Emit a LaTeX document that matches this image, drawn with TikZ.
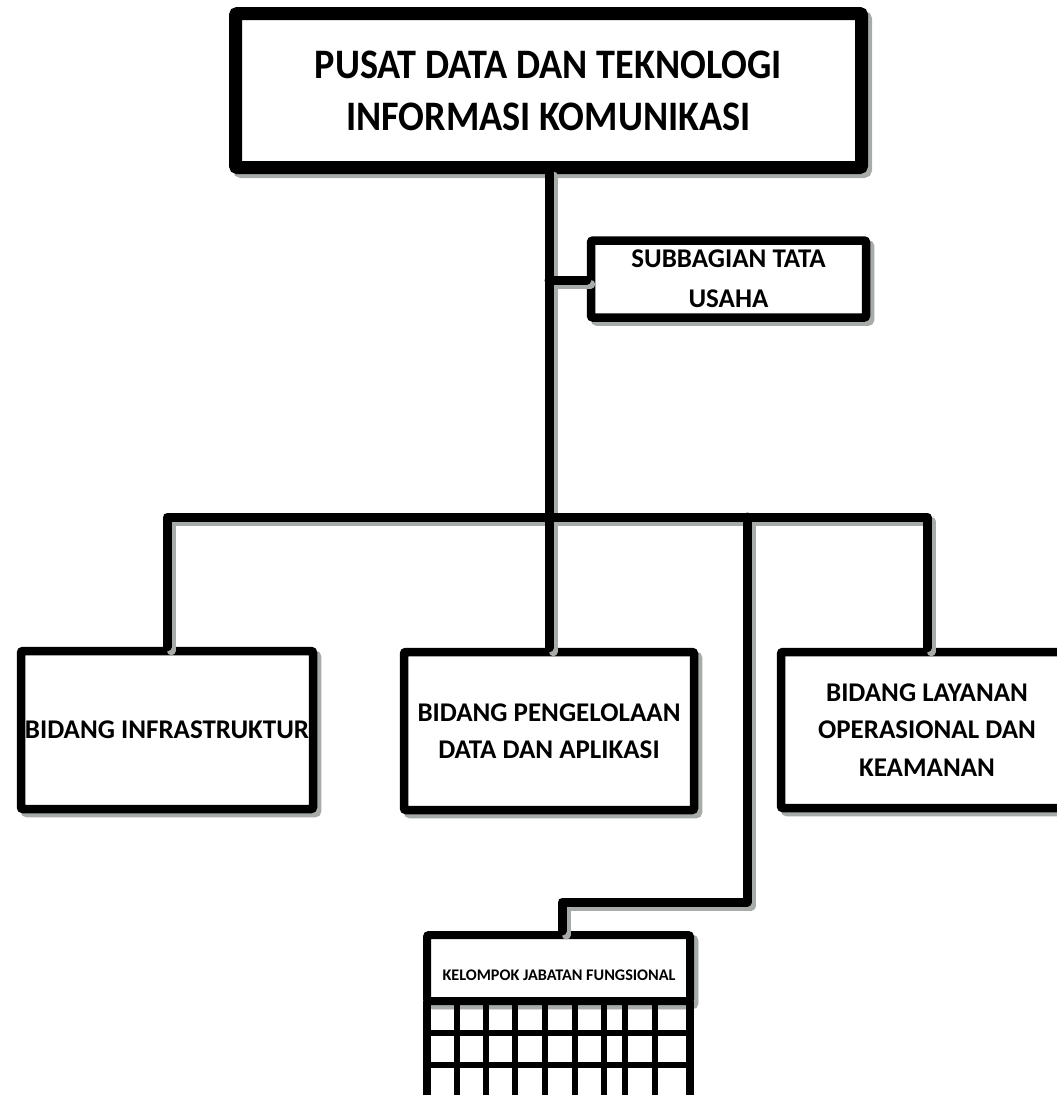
\documentclass[tikz,border=0pt]{standalone}
\usepackage{fontspec}
\setmainfont{Carlito}
\newfontfamily\titlefont{Carlito}[FakeStretch=0.91]
\definecolor{shadowgray}{RGB}{168,172,168}
\begin{document}
\begin{tikzpicture}[x=1pt,y=-1pt,
  boxshadow/.style={preaction={draw=shadowgray, line width=#1,
      transform canvas={shift={(4pt,-4pt)}}}},
  unitbox/.style={draw=black, fill=white, line width=8.5pt, rounded corners=2pt,
      inner sep=0pt, align=center, boxshadow=8.5pt,
      font=\bfseries\fontsize{27}{37.5}\selectfont},
  headbox/.style={unitbox, line width=13pt, boxshadow=13pt,
      font=\titlefont\bfseries\fontsize{42}{52}\selectfont},
  wire/.style={draw=black, line width=9pt, line cap=round, line join=round},
  wireshadow/.style={wire, draw=shadowgray, transform canvas={shift={(4pt,-4pt)}}},
  gridline/.style={draw=black, line width=6pt},
  gridframe/.style={draw=black, line width=8pt}]

\useasboundingbox (0,0) rectangle (1057,1095);
\clip (0,0) rectangle (1057,1095);

% boxes
\node[headbox, minimum width=626pt, minimum height=154pt] (head) at (548.5,90.5)
  {PUSAT DATA DAN TEKNOLOGI\\INFORMASI KOMUNIKASI};
\node[unitbox, minimum width=275pt, minimum height=77pt,
      font=\bfseries\fontsize{27}{40}\selectfont] (sub) at (728.5,279)
  {SUBBAGIAN TATA\\USAHA};
\node[unitbox, minimum width=292pt, minimum height=158pt] (left) at (167,730)
  {BIDANG INFRASTRUKTUR};
\node[unitbox, minimum width=290pt, minimum height=158pt] (mid) at (549,731)
  {BIDANG PENGELOLAAN\\DATA DAN APLIKASI};
\node[unitbox, minimum width=292pt, minimum height=156pt] (right) at (927,730)
  {BIDANG LAYANAN\\OPERASIONAL DAN\\KEAMANAN};

% functional group: header with a grid of cells below
\node[unitbox, line width=8pt, boxshadow=8pt, minimum width=263pt, minimum height=66pt]
  (kjHead) at (558.5,968) {};
\node[font=\bfseries\fontsize{16.2}{19}\selectfont, inner sep=0pt] (kjLabel) at (559,975)
  {KELOMPOK JABATAN FUNGSIONAL};
\foreach \gx in {457,486,515,545,575,604,625,655}
  \draw[gridline] (\gx,1001) -- (\gx,1105);
\foreach \gx in {427,690}
  \draw[gridframe] (\gx,1001) -- (\gx,1105);
\foreach \gy in {1001,1032.5,1064.5}
  \draw[gridline] (427,\gy) -- (690,\gy);

% connector junctions
\coordinate (trunkTop) at (549,172);
\coordinate (subJ) at (549,280);
\coordinate (bus) at (549,517);
\coordinate (kjTop) at (747,517);
\coordinate (kjBendA) at (747,902);
\coordinate (kjBendB) at (562,902);

% connectors: shadows first, then the black lines
\foreach \wst in {wireshadow,wire} {
  \draw[\wst] (trunkTop) -- (mid.north);
  \draw[\wst] (subJ) -- (subJ -| sub.west);
  \draw[\wst] (left.north) -- (left.north |- bus) -- (right.north |- bus) -- (right.north);
  \draw[\wst] (kjTop) -- (kjBendA) -- (kjBendB) -- (kjBendB |- kjHead.north);
}
\end{tikzpicture}
\end{document}
